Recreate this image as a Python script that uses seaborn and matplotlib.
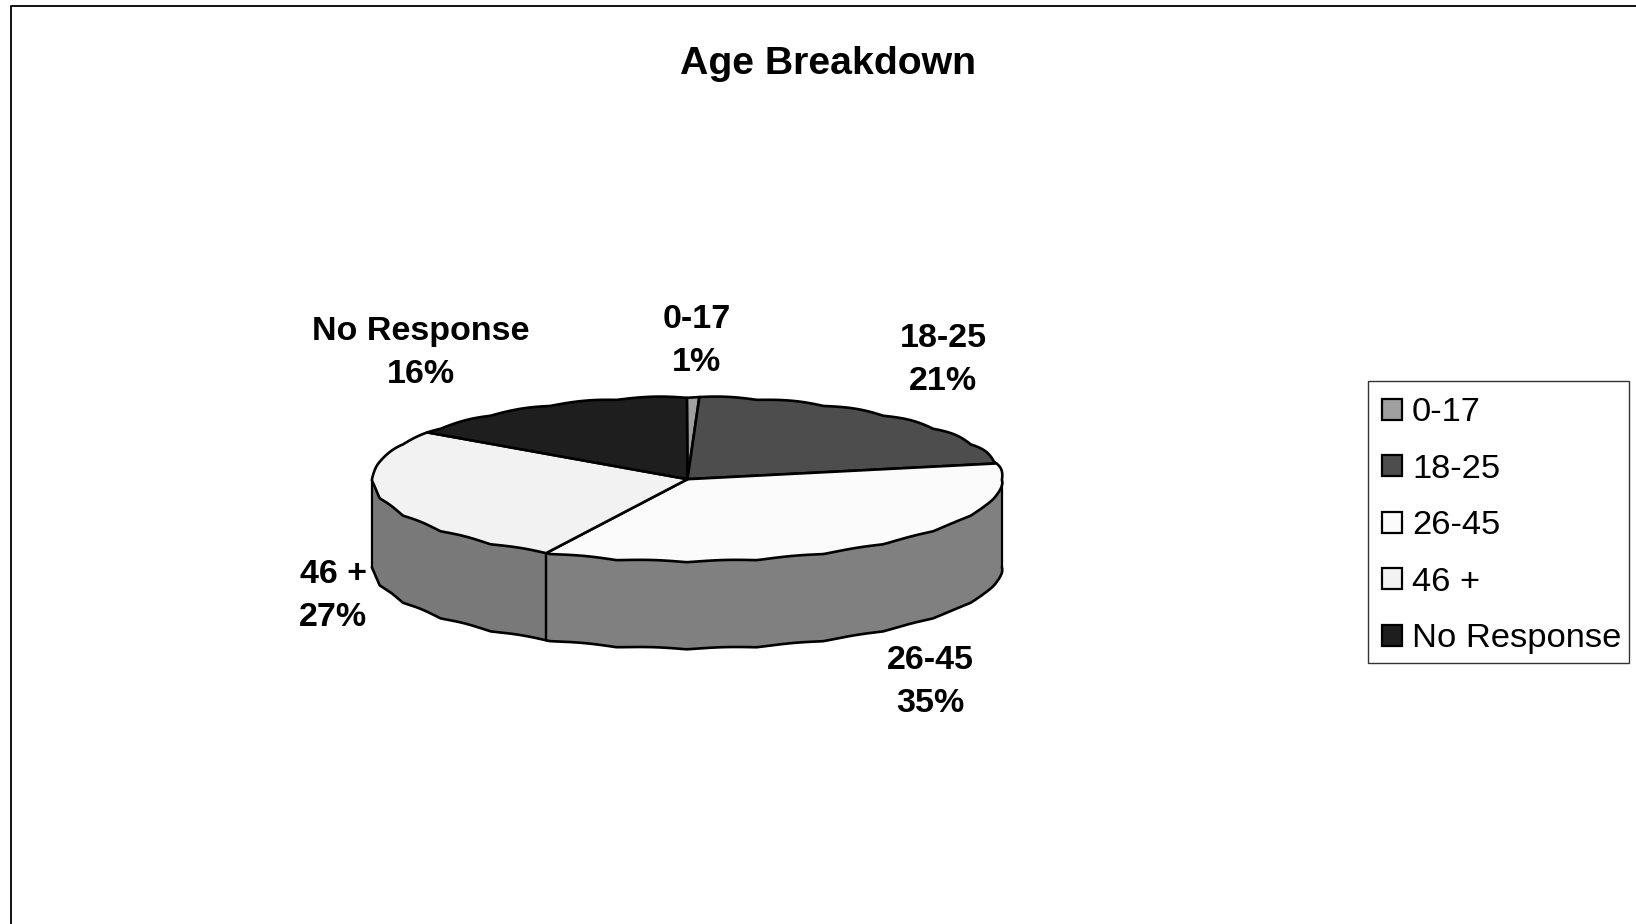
import numpy as np
import matplotlib.pyplot as plt
import seaborn as sns
from matplotlib.lines import Line2D
from matplotlib.patches import Rectangle

# values, labels show them rounded
age_groups = ['0-17', '18-25', '26-45', '46 +', 'No Response']
shares = [0.6, 21.3, 35.49, 27.1, 15.51]
top_colors = ['#a0a0a0', '#4d4d4d', '#fbfbfb', '#f2f2f2', '#1e1e1e']
side_colors = ['#505050', '#262626', '#808080', '#797979', '#0f0f0f']

W, H = 1636, 924
DEPTH = 1.06  # wall height, in units of the squashed radius

sns.set_theme(style='white')
plt.rcParams['font.family'] = ['Liberation Sans', 'DejaVu Sans']
plt.rcParams['text.color'] = 'black'


def fx(x):
    return x / W


def fy(y):
    return 1 - y / H


def rim(deg):
    # rim of the pie, with the scalloped look of the low-res original
    th = np.radians(deg)
    bump = np.abs(np.sin(14 * th)) - 0.5
    return np.cos(th) + 0.004 * bump, np.sin(th) + 0.02 * bump


fig = plt.figure(figsize=(W / 100, H / 100), dpi=100, facecolor='white')

# outer chart frame only shows on the left and top
fig.add_artist(Line2D([fx(11), fx(11), 1], [0, fy(5.5), fy(5.5)], color='#111111', lw=1.4))

# axes box: x -1..1 = pie width, y squashed into an ellipse
left, right, top, bottom = 372.5, 1002.5, 397, 648.5
ax = fig.add_axes([fx(left), fy(bottom), (right - left) / W, (bottom - top) / H])
ax.set_xlim(-1, 1)
ax.set_ylim(-1 - DEPTH, 1)
ax.axis('off')

edges = 90 - np.cumsum([0] + shares) * 3.6

# side wall under the front half of the pie
for i in range(len(shares)):
    lo, hi = max(edges[i + 1], -180), min(edges[i], 0)
    if hi <= lo:
        continue
    xs, ys = rim(np.linspace(lo, hi, 300))
    ax.fill(np.r_[xs, xs[::-1]], np.r_[ys, ys[::-1] - DEPTH], color=side_colors[i],
            lw=0, zorder=1, clip_on=False)
    for k in [0, -1]:
        ax.plot([xs[k], xs[k]], [ys[k], ys[k] - DEPTH], color='black', lw=1.6,
                zorder=2, clip_on=False)
    ax.plot(xs, ys - DEPTH, color='black', lw=1.9, zorder=2, clip_on=False)

# top face
wedges = []
for i in range(len(shares)):
    xs, ys = rim(np.linspace(edges[i], edges[i + 1], 300))
    patch = ax.fill(np.r_[0, xs], np.r_[0, ys], facecolor=top_colors[i], edgecolor='black',
                    lw=1.9, zorder=3, clip_on=False, joinstyle='round')[0]
    wedges.append(patch)

# slice labels
label_centers = [(697, 341), (943, 360), (930, 682), (333, 596), (421, 353)]
for name, val, (x, y) in zip(age_groups, shares, label_centers):
    fig.text(fx(x), fy(y), f'{name}\n{round(val)}%', ha='center', va='center',
             fontsize=24.5, fontweight='bold', color='black', linespacing=1.52)

fig.text(fx(828.5), fy(64), 'Age Breakdown', ha='center', va='center',
         fontsize=28.3, fontweight='bold', color='black')

# legend box drawn apart so it keeps the original size
fig.add_artist(Rectangle((fx(1368), fy(663)), (1629 - 1368) / W, (663 - 381) / H,
                         transform=fig.transFigure, facecolor='white',
                         edgecolor='#333333', lw=1.0))
leg = fig.legend(wedges, age_groups, loc='upper left',
                 bbox_to_anchor=(fx(1370), fy(385)), fontsize=24.8,
                 frameon=False, borderaxespad=0, borderpad=0.36, labelspacing=0.74,
                 handlelength=0.56, handleheight=0.56, handletextpad=0.3)
leg.set_zorder(5)
for h in leg.get_patches():
    h.set_linewidth(1.6)
    h.set_edgecolor('black')

fig.savefig('out.png', dpi=100)
